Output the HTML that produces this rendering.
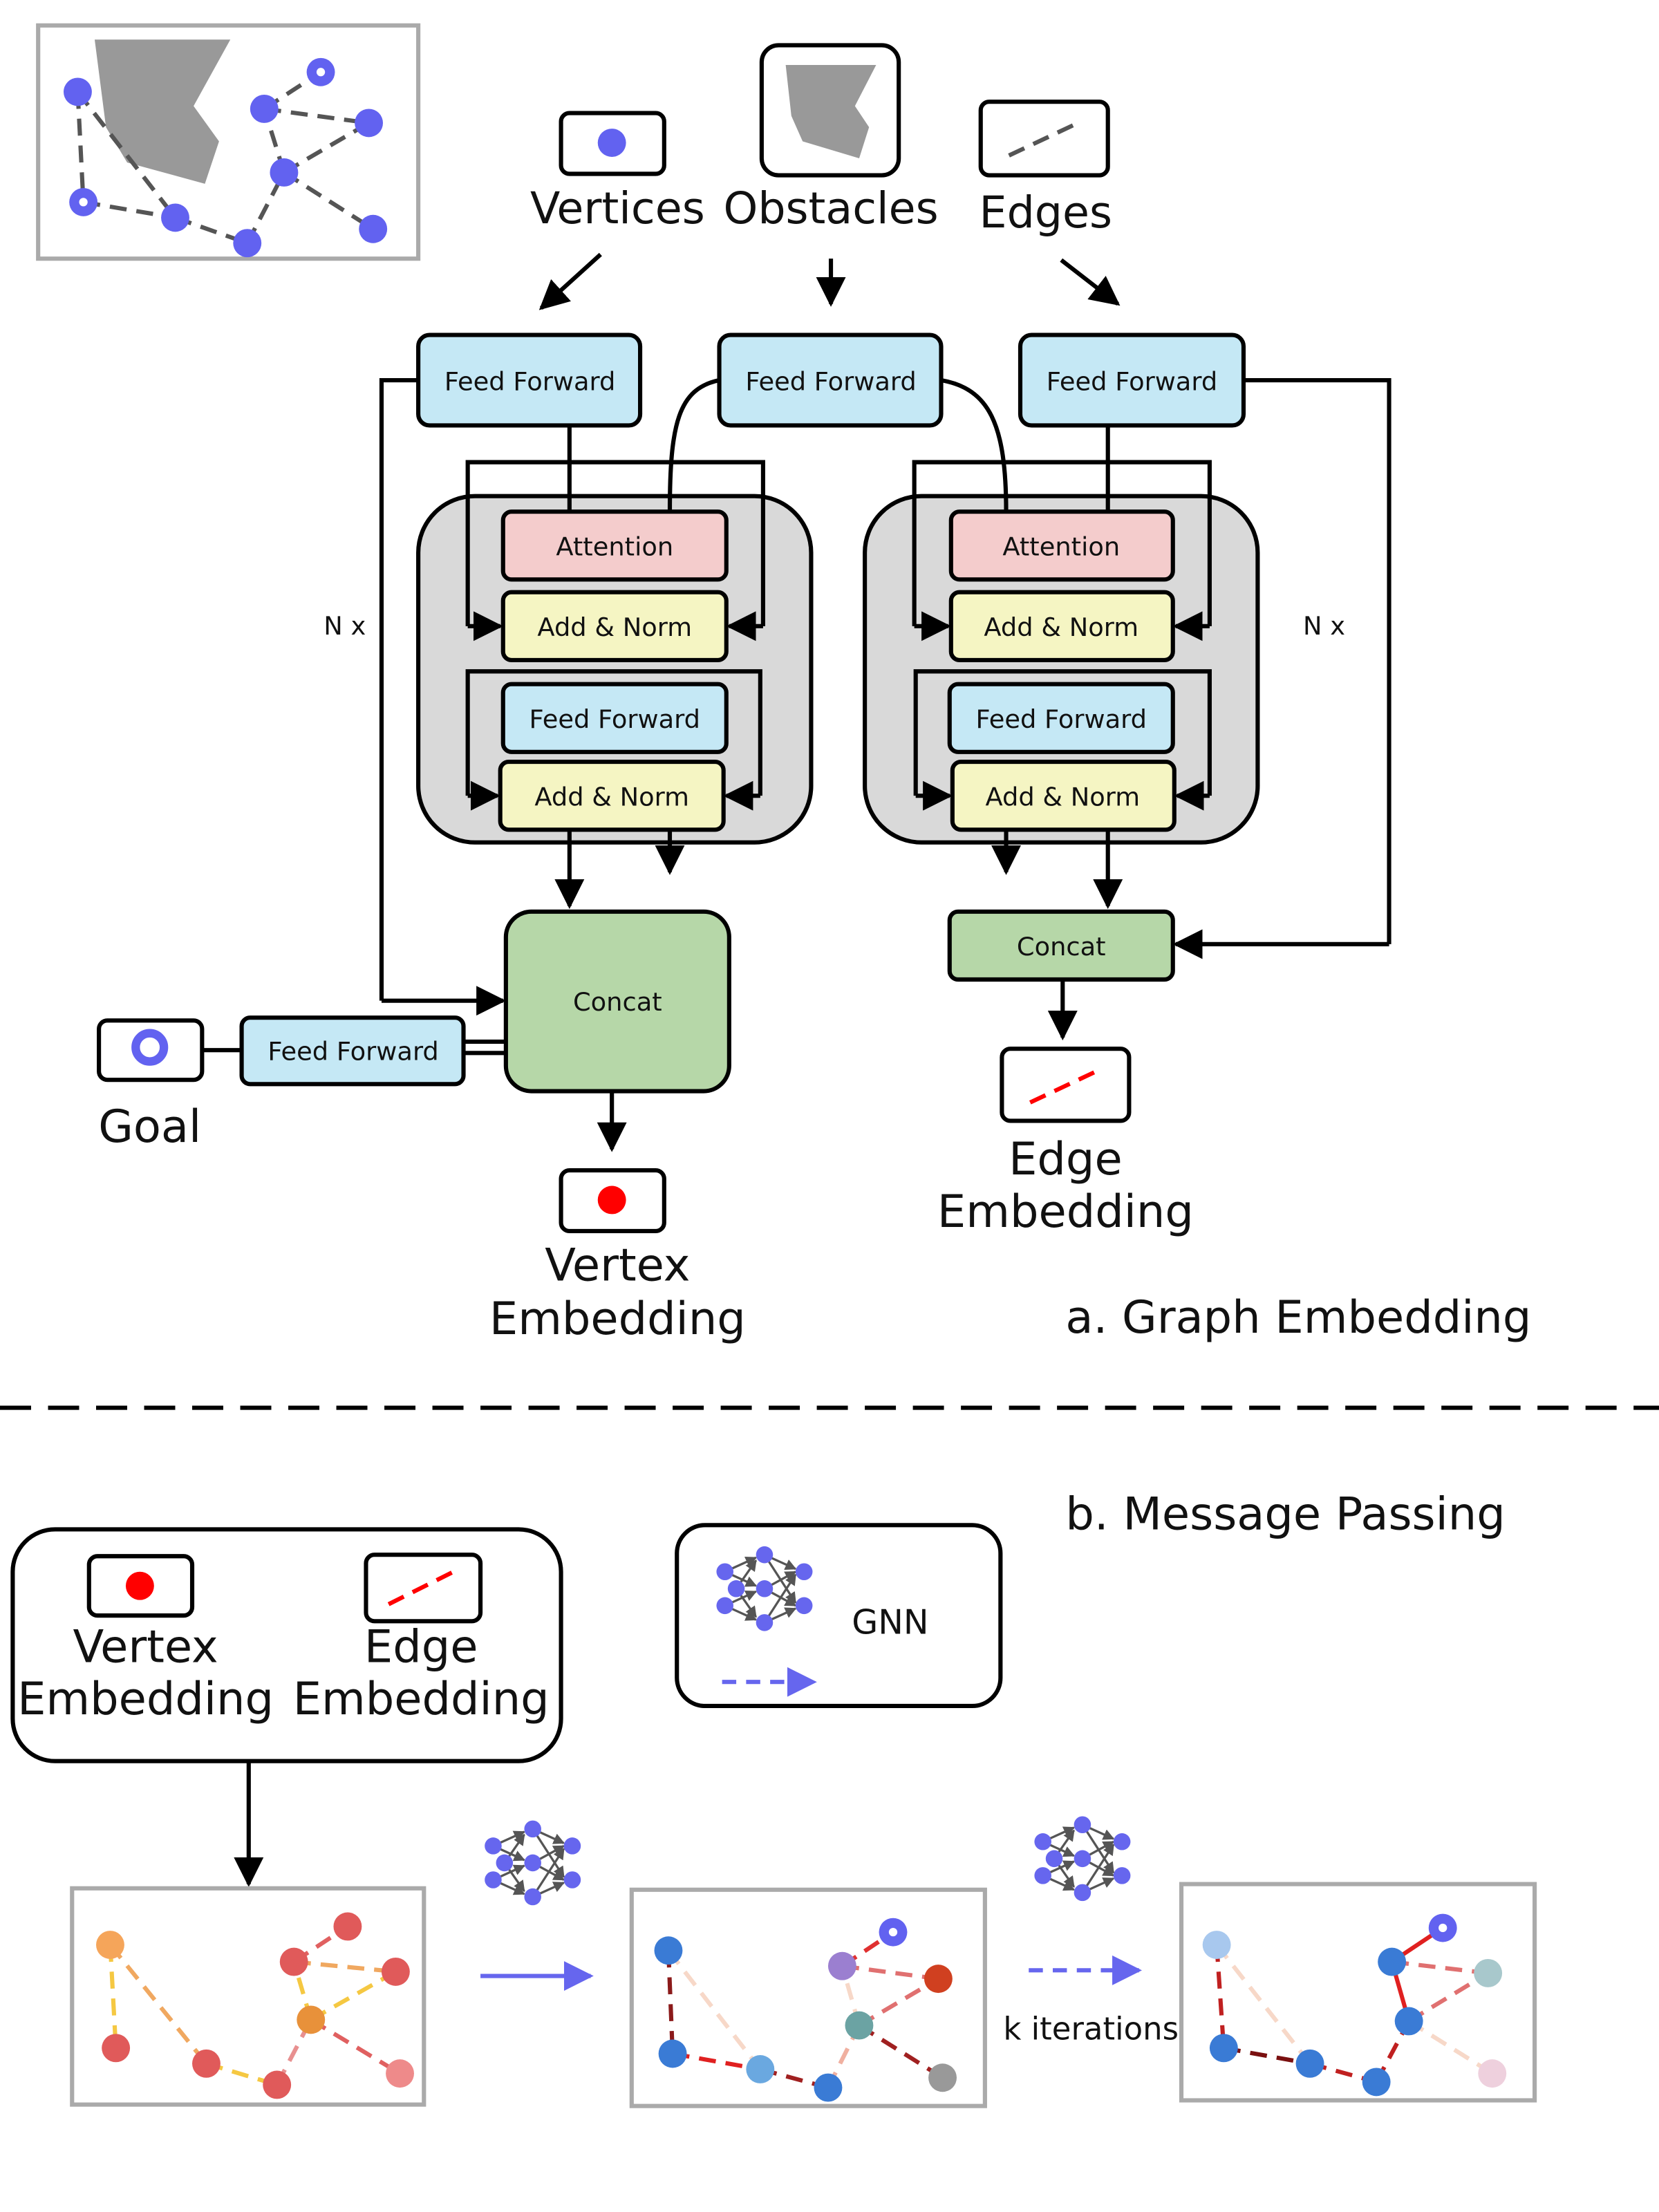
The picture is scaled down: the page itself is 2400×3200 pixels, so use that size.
<!DOCTYPE html>
<html><head><meta charset="utf-8"><style>
html,body{margin:0;padding:0;background:#fff;width:2400px;height:3200px;overflow:hidden}
svg{display:block}
text{font-family:"DejaVu Sans","Liberation Sans",sans-serif;fill:#111}
</style></head><body>
<svg width="2400" height="3200" viewBox="0 0 1174 1565" preserveAspectRatio="none" xmlns="http://www.w3.org/2000/svg">
<defs>
<marker id="ar" viewBox="0 0 10 10" refX="9" refY="5" markerWidth="7" markerHeight="7" orient="auto-start-reverse"><path d="M0,0 L10,5 L0,10 z" fill="#000"/></marker>
<marker id="ab" viewBox="0 0 10 10" refX="9" refY="5" markerWidth="7" markerHeight="7" orient="auto"><path d="M0,0 L10,5 L0,10 z" fill="#6666ee"/></marker>
<marker id="ag" viewBox="0 0 10 10" refX="9" refY="5" markerWidth="5" markerHeight="5" orient="auto"><path d="M0,0 L10,5 L0,10 z" fill="#555"/></marker>
<g id="gnn">
<g stroke="#555" stroke-width="1.6" marker-end="url(#ag)">
<line x1="-28" y1="-12" x2="-6" y2="-22"/><line x1="-28" y1="-12" x2="-6" y2="-2"/>
<line x1="-28" y1="12" x2="-6" y2="2"/><line x1="-28" y1="12" x2="-6" y2="22"/>
<line x1="-20" y1="0" x2="-6" y2="-20"/><line x1="-20" y1="0" x2="-6" y2="20"/>
<line x1="0" y1="-24" x2="22" y2="-14"/><line x1="0" y1="0" x2="22" y2="-12"/>
<line x1="0" y1="0" x2="22" y2="12"/><line x1="0" y1="24" x2="22" y2="14"/>
<line x1="0" y1="-24" x2="22" y2="10"/><line x1="0" y1="24" x2="22" y2="-10"/>
</g>
<g fill="#6666ee"><circle cx="-28" cy="-12" r="6"/><circle cx="-28" cy="12" r="6"/><circle cx="-20" cy="0" r="6"/>
<circle cx="0" cy="-24" r="6"/><circle cx="0" cy="0" r="6"/><circle cx="0" cy="24" r="6"/>
<circle cx="28" cy="-12" r="6"/><circle cx="28" cy="12" r="6"/></g>
</g>
</defs>

<rect x="27" y="18" width="269" height="165" fill="#fff" stroke="#aaa" stroke-width="3"/>
<polygon points="67,28 163,28 137,75 155,100 145,130 90,115 75,90" fill="#999"/>
<g stroke="#555" stroke-width="3" stroke-dasharray="12,7">
<line x1="55" y1="65" x2="59" y2="143"/><line x1="55" y1="65" x2="124" y2="154"/>
<line x1="59" y1="143" x2="124" y2="154"/><line x1="124" y1="154" x2="175" y2="172"/>
<line x1="175" y1="172" x2="201" y2="122"/><line x1="201" y1="122" x2="187" y2="77"/>
<line x1="187" y1="77" x2="227" y2="51"/><line x1="187" y1="77" x2="261" y2="87"/>
<line x1="201" y1="122" x2="261" y2="87"/><line x1="201" y1="122" x2="264" y2="162"/>
</g>
<g fill="#6262f0">
<circle cx="55" cy="65" r="10"/><circle cx="187" cy="77" r="10"/><circle cx="227" cy="51" r="10"/>
<circle cx="261" cy="87" r="10"/><circle cx="201" cy="122" r="10"/><circle cx="59" cy="143" r="10"/>
<circle cx="124" cy="154" r="10"/><circle cx="175" cy="172" r="10"/><circle cx="264" cy="162" r="10"/>
</g>
<circle cx="227" cy="51" r="3" fill="#fff"/><circle cx="59" cy="143" r="3" fill="#fff"/>

<rect x="397" y="80" width="73" height="43" rx="6" fill="#fff" stroke="#000" stroke-width="3"/>
<circle cx="433" cy="101" r="10" fill="#6262f0"/>
<rect x="539" y="32" width="97" height="92" rx="12" fill="#fff" stroke="#000" stroke-width="3"/>
<polygon points="556,46 620,46 605,75 615,90 608,112 568,100 560,82" fill="#999"/>
<rect x="694" y="72" width="90" height="52" rx="6" fill="#fff" stroke="#000" stroke-width="3"/>
<line x1="714" y1="110" x2="765" y2="86" stroke="#555" stroke-width="3" stroke-dasharray="12,7"/>
<g font-size="31" text-anchor="middle">
<text x="437" y="158">Vertices</text><text x="588" y="158">Obstacles</text><text x="740" y="161">Edges</text>
</g>
<g stroke="#000" stroke-width="3" marker-end="url(#ar)">
<line x1="425" y1="180" x2="383" y2="218"/><line x1="588" y1="183" x2="588" y2="215"/><line x1="751" y1="184" x2="791" y2="215"/>
</g>

<rect x="296" y="351" width="278" height="245" rx="40" fill="#d9d9d9" stroke="#000" stroke-width="3"/>
<rect x="612" y="351" width="278" height="245" rx="40" fill="#d9d9d9" stroke="#000" stroke-width="3"/>

<g stroke="#000" stroke-width="3" fill="none">
<line x1="403" y1="301" x2="403" y2="362"/>
<polyline points="403,327 331,327 331,443" /><polyline points="403,327 540,327 540,443"/>
<line x1="331" y1="443" x2="354" y2="443" marker-end="url(#ar)"/><line x1="540" y1="443" x2="516" y2="443" marker-end="url(#ar)"/>
<path d="M509,269 C480,275 474,300 474,362"/>
<path d="M666,269 C700,275 712,300 712,362"/>
<line x1="784" y1="301" x2="784" y2="362"/>
<polyline points="784,327 647,327 647,443"/><polyline points="784,327 856,327 856,443"/>
<line x1="647" y1="443" x2="671" y2="443" marker-end="url(#ar)"/><line x1="856" y1="443" x2="832" y2="443" marker-end="url(#ar)"/>
<polyline points="331,563 331,475 538,475 538,563"/>
<line x1="331" y1="563" x2="352" y2="563" marker-end="url(#ar)"/><line x1="538" y1="563" x2="514" y2="563" marker-end="url(#ar)"/>
<polyline points="648,563 648,475 856,475 856,563"/>
<line x1="648" y1="563" x2="672" y2="563" marker-end="url(#ar)"/><line x1="856" y1="563" x2="833" y2="563" marker-end="url(#ar)"/>
<line x1="403" y1="587" x2="403" y2="641" marker-end="url(#ar)"/>
<line x1="474" y1="587" x2="474" y2="617" marker-end="url(#ar)"/>
<line x1="712" y1="587" x2="712" y2="617" marker-end="url(#ar)"/>
<line x1="784" y1="587" x2="784" y2="641" marker-end="url(#ar)"/>
<polyline points="296,269 270,269 270,708"/><line x1="270" y1="708" x2="356" y2="708" marker-end="url(#ar)"/>
<polyline points="880,269 983,269 983,668"/><line x1="983" y1="668" x2="832" y2="668" marker-end="url(#ar)"/>
<line x1="143" y1="743" x2="171" y2="743"/>
<line x1="328" y1="737" x2="358" y2="737"/><line x1="328" y1="745" x2="358" y2="745"/>
<line x1="433" y1="772" x2="433" y2="813" marker-end="url(#ar)"/>
<line x1="752" y1="693" x2="752" y2="734" marker-end="url(#ar)"/>
<line x1="176" y1="1246" x2="176" y2="1333" marker-end="url(#ar)"/>
</g>

<g stroke="#000" stroke-width="3">
<rect x="296" y="237" width="157" height="64" rx="8" fill="#c5e8f5"/>
<rect x="509" y="237" width="157" height="64" rx="8" fill="#c5e8f5"/>
<rect x="722" y="237" width="158" height="64" rx="8" fill="#c5e8f5"/>
<rect x="356" y="362" width="158" height="48" rx="6" fill="#f4cccc"/>
<rect x="356" y="419" width="158" height="48" rx="6" fill="#f5f5c3"/>
<rect x="356" y="484" width="158" height="48" rx="6" fill="#c5e8f5"/>
<rect x="354" y="539" width="158" height="48" rx="6" fill="#f5f5c3"/>
<rect x="673" y="362" width="157" height="48" rx="6" fill="#f4cccc"/>
<rect x="673" y="419" width="157" height="48" rx="6" fill="#f5f5c3"/>
<rect x="672" y="484" width="158" height="48" rx="6" fill="#c5e8f5"/>
<rect x="674" y="539" width="157" height="48" rx="6" fill="#f5f5c3"/>
<rect x="358" y="645" width="158" height="127" rx="18" fill="#b6d7a8"/>
<rect x="672" y="645" width="158" height="48" rx="6" fill="#b6d7a8"/>
<rect x="171" y="720" width="157" height="47" rx="6" fill="#c5e8f5"/>
<rect x="70" y="722" width="73" height="42" rx="6" fill="#fff"/>
<rect x="397" y="828" width="73" height="43" rx="6" fill="#fff"/>
<rect x="709" y="742" width="90" height="51" rx="6" fill="#fff"/>
</g>
<circle cx="106" cy="741" r="10" fill="#fff" stroke="#6262f0" stroke-width="6"/>
<circle cx="433" cy="849" r="10" fill="#f00"/>
<line x1="729" y1="780" x2="780" y2="756" stroke="#f00" stroke-width="3" stroke-dasharray="12,7"/>

<g font-size="18" text-anchor="middle">
<text x="375" y="276">Feed Forward</text><text x="588" y="276">Feed Forward</text><text x="801" y="276">Feed Forward</text>
<text x="435" y="393">Attention</text><text x="435" y="450">Add &amp; Norm</text>
<text x="435" y="515">Feed Forward</text><text x="433" y="570">Add &amp; Norm</text>
<text x="751" y="393">Attention</text><text x="751" y="450">Add &amp; Norm</text>
<text x="751" y="515">Feed Forward</text><text x="752" y="570">Add &amp; Norm</text>
<text x="437" y="715">Concat</text><text x="751" y="676">Concat</text>
<text x="250" y="750">Feed Forward</text>
<text x="244" y="449">N x</text><text x="937" y="449">N x</text>
</g>
<g font-size="32" text-anchor="middle">
<text x="106" y="808">Goal</text>
<text x="437" y="906">Vertex</text><text x="437" y="944">Embedding</text>
<text x="754" y="831">Edge</text><text x="754" y="868">Embedding</text>
</g>
<text x="754" y="943" font-size="32">a. Graph Embedding</text>

<line x1="0" y1="996" x2="1174" y2="996" stroke="#000" stroke-width="3" stroke-dasharray="22,12"/>
<text x="754" y="1082" font-size="32">b. Message Passing</text>

<rect x="9" y="1082" width="388" height="164" rx="30" fill="#fff" stroke="#000" stroke-width="3"/>
<rect x="63" y="1101" width="73" height="42" rx="6" fill="#fff" stroke="#000" stroke-width="3"/>
<circle cx="99" cy="1122" r="10" fill="#f00"/>
<rect x="259" y="1100" width="81" height="47" rx="6" fill="#fff" stroke="#000" stroke-width="3"/>
<line x1="275" y1="1135" x2="325" y2="1110" stroke="#f00" stroke-width="3" stroke-dasharray="12,7"/>
<g font-size="32" text-anchor="middle">
<text x="103" y="1176">Vertex</text><text x="103" y="1213">Embedding</text>
<text x="298" y="1176">Edge</text><text x="298" y="1213">Embedding</text>
</g>
<rect x="479" y="1079" width="229" height="128" rx="20" fill="#fff" stroke="#000" stroke-width="3"/>
<use href="#gnn" x="541" y="1124"/>
<text x="630" y="1156" font-size="24" text-anchor="middle">GNN</text>
<line x1="511" y1="1190" x2="576" y2="1190" stroke="#6666ee" stroke-width="3" stroke-dasharray="10,7" marker-end="url(#ab)"/>

<use href="#gnn" x="377" y="1318"/>
<use href="#gnn" x="766" y="1315"/>
<line x1="340" y1="1398" x2="418" y2="1398" stroke="#6666ee" stroke-width="3" marker-end="url(#ab)"/>
<line x1="728" y1="1394" x2="806" y2="1394" stroke="#6666ee" stroke-width="3" stroke-dasharray="10,7" marker-end="url(#ab)"/>
<text x="772" y="1443" font-size="22" text-anchor="middle">k iterations</text>

<rect x="51" y="1336" width="249" height="153" fill="#fff" stroke="#aaa" stroke-width="3"/>
<g stroke-width="3" stroke-dasharray="12,7">
<line x1="78" y1="1376" x2="82" y2="1449" stroke="#f5c842"/>
<line x1="78" y1="1376" x2="146" y2="1460" stroke="#f0a860"/>
<line x1="146" y1="1460" x2="196" y2="1475" stroke="#f5c842"/>
<line x1="196" y1="1475" x2="220" y2="1429" stroke="#e89090"/>
<line x1="220" y1="1429" x2="208" y2="1388" stroke="#f5c842"/>
<line x1="208" y1="1388" x2="246" y2="1363" stroke="#e06060"/>
<line x1="208" y1="1388" x2="280" y2="1395" stroke="#f0a860"/>
<line x1="220" y1="1429" x2="280" y2="1395" stroke="#f5c842"/>
<line x1="220" y1="1429" x2="283" y2="1467" stroke="#e06060"/>
</g>
<circle cx="78" cy="1376" r="10" fill="#f5a55a"/><circle cx="82" cy="1449" r="10" fill="#e05a5a"/>
<circle cx="146" cy="1460" r="10" fill="#e05a5a"/><circle cx="196" cy="1475" r="10" fill="#e05a5a"/>
<circle cx="208" cy="1388" r="10" fill="#e05a5a"/><circle cx="246" cy="1363" r="10" fill="#e05a5a"/>
<circle cx="280" cy="1395" r="10" fill="#e05a5a"/><circle cx="220" cy="1429" r="10" fill="#e8913a"/>
<circle cx="283" cy="1467" r="10" fill="#ee8a8a"/>

<rect x="447" y="1337" width="250" height="153" fill="#fff" stroke="#aaa" stroke-width="3"/>
<g stroke-width="3" stroke-dasharray="12,7">
<line x1="473" y1="1380" x2="476" y2="1453" stroke="#8b1a1a"/>
<line x1="473" y1="1380" x2="538" y2="1464" stroke="#f7d8c8"/>
<line x1="476" y1="1453" x2="538" y2="1464" stroke="#e02020"/>
<line x1="538" y1="1464" x2="586" y2="1477" stroke="#a02020"/>
<line x1="586" y1="1477" x2="608" y2="1433" stroke="#f0b0a0"/>
<line x1="608" y1="1433" x2="596" y2="1391" stroke="#f7d8c8"/>
<line x1="596" y1="1391" x2="632" y2="1367" stroke="#e03030"/>
<line x1="596" y1="1391" x2="664" y2="1400" stroke="#e07070"/>
<line x1="608" y1="1433" x2="664" y2="1400" stroke="#e07070"/>
<line x1="608" y1="1433" x2="667" y2="1470" stroke="#a02020"/>
</g>
<circle cx="473" cy="1380" r="10" fill="#3a7bd5"/><circle cx="476" cy="1453" r="10" fill="#3a7bd5"/>
<circle cx="538" cy="1464" r="10" fill="#6aa8e0"/><circle cx="586" cy="1477" r="10" fill="#3a7bd5"/>
<circle cx="596" cy="1391" r="10" fill="#9b7fd0"/><circle cx="632" cy="1367" r="10" fill="#6262f0"/>
<circle cx="632" cy="1367" r="3" fill="#fff"/>
<circle cx="664" cy="1400" r="10" fill="#d04020"/><circle cx="608" cy="1433" r="10" fill="#6ba3a3"/>
<circle cx="667" cy="1470" r="10" fill="#999"/>

<rect x="836" y="1333" width="250" height="153" fill="#fff" stroke="#aaa" stroke-width="3"/>
<g stroke-width="3" stroke-dasharray="12,7">
<line x1="861" y1="1376" x2="866" y2="1449" stroke="#c02020"/>
<line x1="861" y1="1376" x2="927" y2="1460" stroke="#f7d8c8"/>
<line x1="866" y1="1449" x2="927" y2="1460" stroke="#7a1010"/>
<line x1="927" y1="1460" x2="974" y2="1473" stroke="#c02020"/>
<line x1="974" y1="1473" x2="997" y2="1430" stroke="#c02020"/>
<line x1="997" y1="1430" x2="985" y2="1388" stroke="#e02020" stroke-dasharray="none"/>
<line x1="985" y1="1388" x2="1021" y2="1364" stroke="#e02020" stroke-dasharray="none"/>
<line x1="985" y1="1388" x2="1053" y2="1396" stroke="#e07070"/>
<line x1="997" y1="1430" x2="1053" y2="1396" stroke="#e07070"/>
<line x1="997" y1="1430" x2="1056" y2="1467" stroke="#f7d8c8"/>
</g>
<circle cx="861" cy="1376" r="10" fill="#a8c8ee"/><circle cx="866" cy="1449" r="10" fill="#3a7bd5"/>
<circle cx="927" cy="1460" r="10" fill="#3a7bd5"/><circle cx="974" cy="1473" r="10" fill="#3a7bd5"/>
<circle cx="985" cy="1388" r="10" fill="#3a7bd5"/><circle cx="1021" cy="1364" r="10" fill="#6262f0"/>
<circle cx="1021" cy="1364" r="3" fill="#fff"/>
<circle cx="1053" cy="1396" r="10" fill="#a8c8cc"/><circle cx="997" cy="1430" r="10" fill="#3a7bd5"/>
<circle cx="1056" cy="1467" r="10" fill="#eed0dd"/>
</svg>
</body></html>
